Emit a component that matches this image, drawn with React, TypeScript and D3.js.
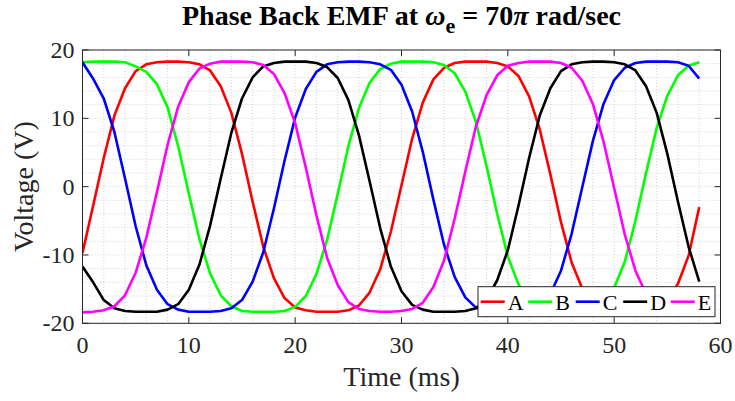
import { useEffect } from "react";
import * as d3 from "d3";

// sample times (ms) and phase voltages (V)
const TIME = [
  0, 1, 2, 3, 4, 5, 6, 7, 8, 9, 10, 11, 12, 13, 14, 15, 16, 17, 18, 19,
  20, 21, 22, 23, 24, 25, 26, 27, 28, 29, 30, 31, 32, 33, 34, 35, 36, 37, 38, 39,
  40, 41, 42, 43, 44, 45, 46, 47, 48, 49, 50, 51, 52, 53, 54, 55, 56, 57, 58,
];

const PHASE_A = [
  -9.7, -2.8, 4.2, 10.4, 14.4, 16.9, 17.9, 18.2, 18.3, 18.3,
  18.2, 17.9, 17.0, 14.7, 10.8, 4.8, -2.2, -8.8, -13.4, -16.3,
  -17.7, -18.1, -18.3, -18.3, -18.3, -18.1, -17.4, -15.5, -12.1, -6.6,
  0.2, 7.0, 12.3, 15.7, 17.4, 18.1, 18.3, 18.3, 18.3, 18.1,
  17.6, 16.2, 13.2, 8.4, 1.8, -5.2, -11.1, -14.9, -17.1, -18.0,
  -18.2, -18.3, -18.3, -18.2, -17.9, -16.8, -14.2, -10.1, -3.0,
];

const PHASE_B = [
  18.2, 18.3, 18.3, 18.3, 18.2, 17.6, 16.8, 15.0, 11.6, 5.9,
  -1.0, -7.7, -12.7, -15.9, -17.5, -18.2, -18.3, -18.3, -18.3, -18.2,
  -17.6, -16.0, -12.8, -7.8, -1.1, 5.9, 11.5, 15.2, 17.2, 18.0,
  18.3, 18.3, 18.3, 18.2, 17.8, 16.6, 13.9, 9.5, 3.0, -4.0,
  -10.2, -14.3, -16.8, -17.9, -18.2, -18.3, -18.3, -18.3, -18.0, -17.1,
  -14.8, -11.0, -5.0, 2.0, 8.6, 13.3, 16.3, 17.7, 18.2,
];

const PHASE_C = [
  18.2, 15.8, 12.9, 8.0, 1.2, -5.8, -11.5, -15.1, -17.2, -18.0,
  -18.3, -18.3, -18.3, -18.2, -17.8, -16.6, -13.9, -9.6, -3.2, 3.8,
  10.1, 14.3, 16.8, 17.9, 18.2, 18.3, 18.3, 18.2, 17.9, 17.1,
  14.9, 11.0, 5.1, -1.9, -8.5, -13.2, -16.2, -17.7, -18.2, -18.3,
  -18.3, -18.3, -18.1, -17.4, -15.7, -12.3, -6.9, -0.1, 6.7, 12.1,
  15.6, 17.4, 18.1, 18.3, 18.3, 18.3, 18.2, 17.7, 15.8,
];

const PHASE_D = [
  -11.7, -14.0, -16.6, -17.8, -18.2, -18.3, -18.3, -18.3, -18.0, -17.2,
  -15.1, -11.4, -5.7, 1.2, 7.9, 12.9, 16.0, 17.6, 18.1, 18.3,
  18.3, 18.3, 18.1, 17.5, 15.9, 12.7, 7.5, 0.8, -6.1, -11.7,
  -15.3, -17.3, -18.0, -18.3, -18.3, -18.3, -18.2, -17.8, -16.5, -13.7,
  -9.3, -2.8, 4.2, 10.4, 14.4, 16.9, 17.9, 18.2, 18.3, 18.3,
  18.2, 17.9, 17.0, 14.7, 10.8, 4.8, -2.2, -8.8, -13.9,
];

const PHASE_E = [
  -18.4, -18.3, -18.1, -17.5, -15.9, -12.6, -7.5, -0.8, 6.1, 11.7,
  15.3, 17.3, 18.0, 18.3, 18.3, 18.3, 18.2, 17.8, 16.5, 13.7,
  9.3, 2.8, -4.2, -10.4, -14.4, -16.9, -17.9, -18.2, -18.3, -18.3,
  -18.2, -17.9, -17.0, -14.7, -10.8, -4.7, 2.2, 8.8, 13.4, 16.3,
  17.7, 18.1, 18.3, 18.3, 18.3, 18.1, 17.4, 15.5, 12.1, 6.6,
  -0.2, -7.0, -12.3, -15.7, -17.4, -18.1, -18.3, -18.3, -18.3,
];

const SERIES = [
  { label: "A", values: PHASE_A, color: "#ff0000" },
  { label: "B", values: PHASE_B, color: "#00ff00" },
  { label: "C", values: PHASE_C, color: "#0000ff" },
  { label: "D", values: PHASE_D, color: "#000000" },
  { label: "E", values: PHASE_E, color: "#ff00ff" },
];

const X_TICKS = [0, 10, 20, 30, 40, 50, 60];
const Y_TICKS = [-20, -10, 0, 10, 20];

const WIDTH = 735;
const HEIGHT = 401;
const margin = { top: 50, right: 14.5, bottom: 77.7, left: 82.5 };
const AXIS = "#262626";
const FONT = "'Liberation Serif', 'DejaVu Serif', serif";
const LINE_W = 2.6;

export default function App() {
  useEffect(() => {
    document.body.style.margin = "0";
  }, []);

  const x = d3.scaleLinear().domain([0, 60]).range([margin.left, WIDTH - margin.right]);
  const y = d3.scaleLinear().domain([-20, 20]).range([HEIGHT - margin.bottom, margin.top]);
  const [x0, x1] = x.range();
  const [y0, y1] = y.range(); // y0 bottom, y1 top

  const line = d3
    .line<number>()
    .x((_, i) => x(TIME[i]))
    .y((d) => y(d));

  const minorX = x.ticks(30);
  const minorY = y.ticks(20);

  // legend box (lower right, inside the axes)
  const leg = { x: 478, y: 286.7, w: 237, h: 30, step: 47.5, lineLen: 24 };

  return (
    <svg width={WIDTH} height={HEIGHT} style={{ display: "block", background: "#fff", fontFamily: FONT }}>
      <defs>
        <clipPath id="plot">
          <rect x={x0} y={y1} width={x1 - x0} height={y0 - y1} />
        </clipPath>
      </defs>

      {/* grid */}
      <g stroke="#d2d2d2" strokeWidth={1} strokeDasharray="1,2">
        {minorX.map((t) => (
          <line key={"gx" + t} x1={x(t)} x2={x(t)} y1={y1} y2={y0} />
        ))}
        {minorY.map((v) => (
          <line key={"gy" + v} x1={x0} x2={x1} y1={y(v)} y2={y(v)} />
        ))}
      </g>

      {/* series */}
      <g clipPath="url(#plot)" fill="none" strokeWidth={LINE_W} strokeLinejoin="round">
        {SERIES.map((s) => (
          <path key={s.label} d={line(s.values) ?? ""} stroke={s.color} />
        ))}
      </g>

      {/* box and ticks */}
      <rect x={x0} y={y1} width={x1 - x0} height={y0 - y1} fill="none" stroke={AXIS} strokeWidth={1} />
      <g stroke={AXIS} strokeWidth={1}>
        {X_TICKS.map((t) => (
          <g key={"tx" + t}>
            <line x1={x(t)} x2={x(t)} y1={y0} y2={y0 - 6} />
            <line x1={x(t)} x2={x(t)} y1={y1} y2={y1 + 6} />
          </g>
        ))}
        {Y_TICKS.map((v) => (
          <g key={"ty" + v}>
            <line x1={x0} x2={x0 + 6} y1={y(v)} y2={y(v)} />
            <line x1={x1} x2={x1 - 6} y1={y(v)} y2={y(v)} />
          </g>
        ))}
      </g>

      {/* tick labels */}
      <g fontSize={24} fill={AXIS}>
        {X_TICKS.map((t) => (
          <text key={"lx" + t} x={x(t)} y={y0 + 30} textAnchor="middle">
            {t}
          </text>
        ))}
        {Y_TICKS.map((v) => (
          <text key={"ly" + v} x={x0 - 8} y={y(v)} dy="0.33em" textAnchor="end">
            {v}
          </text>
        ))}
      </g>

      {/* axis labels */}
      <text x={(x0 + x1) / 2} y={386} textAnchor="middle" fontSize={28} fill={AXIS}>
        Time (ms)
      </text>
      <text
        transform={`translate(33,${(y0 + y1) / 2}) rotate(-90)`}
        textAnchor="middle"
        fontSize={28}
        fill={AXIS}
      >
        Voltage (V)
      </text>

      {/* title */}
      <text x={(x0 + x1) / 2} y={25} textAnchor="middle" fontSize={28} fontWeight="bold" fill="#000">
        Phase Back EMF at <tspan fontStyle="italic">ω</tspan>
        <tspan dy={8} fontSize={22}>e</tspan>
        <tspan dy={-8}> = 70</tspan>
        <tspan fontStyle="italic">π</tspan> rad/sec
      </text>

      {/* legend */}
      <g>
        <rect x={leg.x} y={leg.y} width={leg.w} height={leg.h} fill="#fff" stroke={AXIS} strokeWidth={1} />
        {SERIES.map((s, i) => {
          const lx = leg.x + 2.7 + i * leg.step;
          const ly = leg.y + leg.h / 2;
          return (
            <g key={"leg" + s.label}>
              <line x1={lx} x2={lx + leg.lineLen} y1={ly} y2={ly} stroke={s.color} strokeWidth={LINE_W} />
              <text x={lx + leg.lineLen + 3} y={ly} dy="0.36em" fontSize={22} fill="#000">
                {s.label}
              </text>
            </g>
          );
        })}
      </g>
    </svg>
  );
}
